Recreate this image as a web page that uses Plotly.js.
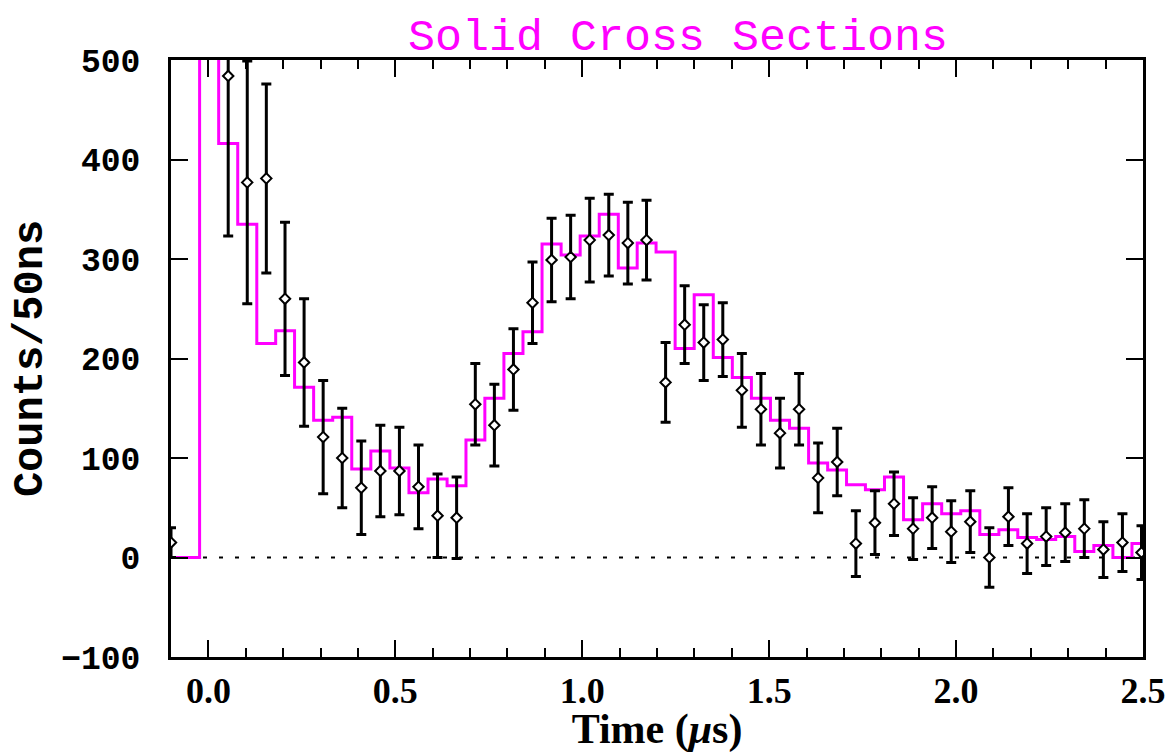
<!DOCTYPE html>
<html>
<head>
<meta charset="utf-8">
<script src="https://cdn.plot.ly/plotly-3.0.1.min.js"></script>
<style>html,body{margin:0;padding:0;background:#fff;}</style>
</head>
<body>
<div id="chart" style="width:1173px;height:753px;"></div>
<script>
// Bin centre times (microseconds)
const timeBins = [-0.100,-0.049,0.002,0.053,0.104,0.155,0.205,0.256,0.307,0.358,
  0.409,0.460,0.511,0.562,0.613,0.664,0.714,0.765,0.816,0.867,
  0.918,0.969,1.020,1.071,1.122,1.172,1.223,1.274,1.325,1.376,
  1.427,1.478,1.529,1.580,1.631,1.682,1.732,1.783,1.834,1.885,
  1.936,1.987,2.038,2.089,2.140,2.190,2.241,2.292,2.343,2.394,
  2.445,2.496];
// Model histogram (magenta)
const modelCounts = [0,0,760,416,335,215,228,171,138,141,
  89,107,90,65,79,72,118,160,205,227,
  315,304,323,345,291,316,307,210,264,201,
  181,160,138,130,95,88,73,68,81,38,
  54,44,47,23,28,20,18,21,6,12,
  0,14];
// Measured counts with errors
const dataCounts = [15,null,null,484,377,381,260,196,121,100,
  70,87,87,71,42,40,154,133,189,256,
  299,302,319,324,316,319,176,234,216,219,
  168,149,125,149,80,96,14,35,54,29,
  40,26,36,0,41,14,21,25,29,8,
  15,5];
const dataErrors = [15,null,null,161,122,95,77,64,57,50,
  47,46,44,42,42,41,41,41,41,41,
  42,42,42,41,41,40,40,39,38,37,
  37,36,35,36,35,34,33,32,32,31,
  31,31,31,30,29,30,29,29,29,28,
  29,27];
const xRange = [-0.1, 2.5];
const yRange = [-100, 500];
const zeroLineX = [-0.1, 2.5];
const zeroLineY = [0, 0];

const traces = [
  {
    x: zeroLineX, y: zeroLineY, mode: 'lines', type: 'scatter',
    line: {color: '#000', width: 2, dash: '4px,12px'},
    hoverinfo: 'skip', showlegend: false
  },
  {
    x: timeBins, y: modelCounts, mode: 'lines', type: 'scatter',
    line: {color: '#ff00ff', width: 3, shape: 'hvh'},
    showlegend: false
  },
  {
    x: timeBins, y: dataCounts, mode: 'markers', type: 'scatter',
    marker: {symbol: 'diamond', size: 8, color: '#fff', line: {color: '#000', width: 2}},
    error_y: {type: 'data', array: dataErrors, visible: true, color: '#000', thickness: 3, width: 5},
    showlegend: false
  }
];

const layout = {
  width: 1173, height: 753,
  margin: {l: 171, r: 30, t: 60, b: 96},
  paper_bgcolor: '#fff', plot_bgcolor: '#fff',
  showlegend: false,
  title: {
    text: 'Solid Cross Sections',
    font: {family: 'Liberation Mono', size: 45, color: '#ff00ff'},
    xref: 'container', x: 0.578, xanchor: 'center',
    yref: 'container', y: 0.975, yanchor: 'top'
  },
  xaxis: {
    range: xRange, showgrid: false, zeroline: false,
    showline: true, linecolor: '#000', linewidth: 3, mirror: 'allticks',
    ticks: 'inside', ticklen: 17, tickwidth: 2, tickcolor: '#000',
    tick0: 0, dtick: 0.5, tickformat: '.1f',
    minor: {dtick: 0.1, tick0: 0, ticks: 'inside', ticklen: 9, tickwidth: 2, tickcolor: '#000', showgrid: false},
    tickfont: {family: 'Liberation Serif', size: 36, color: '#000', weight: 'bold'},
    ticklabelstandoff: 0,
    title: {text: 'Time (<i>μ</i>s)', font: {family: 'Liberation Serif', size: 42, color: '#000', weight: 'bold'}, standoff: 4}
  },
  yaxis: {
    range: yRange, showgrid: false, zeroline: false,
    showline: true, linecolor: '#000', linewidth: 3, mirror: 'allticks',
    ticks: 'inside', ticklen: 17, tickwidth: 2, tickcolor: '#000',
    tick0: 0, dtick: 100,
    tickfont: {family: 'Liberation Mono', size: 33, color: '#000', weight: 'bold'},
    ticklabelstandoff: 21,
    title: {text: 'Counts/50ns', font: {family: 'Liberation Mono', size: 42, color: '#000', weight: 'bold'}, standoff: 6}
  }
};

Plotly.newPlot('chart', traces, layout, {displayModeBar: false, staticPlot: true});
</script>
</body>
</html>
